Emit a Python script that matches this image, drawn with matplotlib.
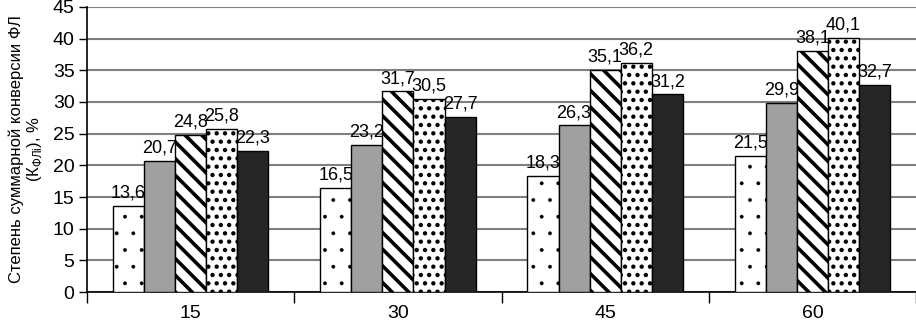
import matplotlib
matplotlib.use("Agg")
import matplotlib.pyplot as plt
import numpy as np

plt.rcParams["font.family"] = ["Liberation Sans", "DejaVu Sans"]

# время, мин
categories = ["15", "30", "45", "60"]
s1 = [13.6, 16.5, 18.3, 21.5]
s2 = [20.7, 23.2, 26.3, 29.9]
s3 = [24.8, 31.7, 35.1, 38.1]
s4 = [25.8, 30.5, 36.2, 40.1]
s5 = [22.3, 27.7, 31.2, 32.7]
series = [s1, s2, s3, s4, s5]

# стиль каждой серии: заливка, штриховка, толщина штриховки
styles = [
    ("white", ".", 0.3),
    ("#a0a0a0", "", 1.0),
    ("white", "\\\\", 2.6),
    ("white", "..", 1.9),
    ("#262626", "", 1.0),
]

fig = plt.figure(figsize=(9.16, 3.25), dpi=100)
ax = fig.add_axes([0.095, 0.1015, 0.905, 0.877])

x = np.arange(len(categories))
w = 0.15
for i, (vals, (fc, hatch, hlw)) in enumerate(zip(series, styles)):
    with plt.rc_context({"hatch.linewidth": hlw}):
        bars = ax.bar(x + (i - 2) * w, vals, w, color=fc, edgecolor="black",
                      hatch=hatch, linewidth=1.0, zorder=3)
    labels = [f"{v:.1f}".replace(".", ",") for v in vals]
    ax.bar_label(bars, labels=labels, padding=3, fontsize=13)

ax.set_ylim(0, 45)
ax.set_yticks(np.arange(0, 46, 5))
ax.set_xlim(-0.5, len(categories) - 0.5)
ax.set_xticks(x)
ax.set_xticklabels(categories)
ax.set_xticks(np.arange(-0.5, len(categories), 1), minor=True)
ax.tick_params(axis="x", which="major", length=0, pad=9, labelsize=14)
ax.tick_params(axis="x", which="minor", length=8, width=1)
ax.tick_params(axis="y", length=6, width=1, labelsize=14, pad=3)
ax.yaxis.grid(True, color="#808080", linewidth=1.5, zorder=0)
ax.set_axisbelow(True)
for side in ("top", "right"):
    ax.spines[side].set_visible(False)
ax.spines["left"].set_linewidth(1.2)
ax.spines["bottom"].set_linewidth(1.2)

ax.set_ylabel("Степень суммарной конверсии ФЛ\n(К$_{\\mathregular{ФЛi}}$), %",
              fontsize=12, linespacing=1.05)
ax.yaxis.set_label_coords(-0.052, 0.5)

fig.savefig("out.png", dpi=100)
